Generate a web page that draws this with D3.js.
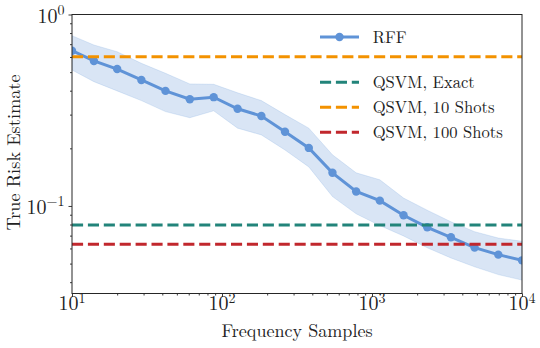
<!DOCTYPE html>
<html>
<head>
<meta charset="utf-8">
<script src="https://cdn.jsdelivr.net/npm/d3@7"></script>
<style>
  html, body { margin: 0; padding: 0; background: #fff; }
  svg { display: block; }
</style>
</head>
<body>
<svg id="chart" width="540" height="348"></svg>
<script>
// ---- data ----
const freqSamples = [10, 14, 20, 29, 42, 61, 88, 127, 183, 263, 379, 545, 784, 1128, 1623, 2335, 3359, 4832, 6951, 10000];
const rffMean  = [0.647, 0.572, 0.519, 0.455, 0.399, 0.361, 0.370, 0.322, 0.295, 0.244, 0.201, 0.149, 0.119, 0.1066, 0.0894, 0.0774, 0.0686, 0.0606, 0.0557, 0.052];
const rffUpper = [0.775, 0.693, 0.639, 0.556, 0.493, 0.434, 0.432, 0.390, 0.355, 0.300, 0.255, 0.185, 0.149, 0.137, 0.110, 0.095, 0.0827, 0.0734, 0.0680, 0.0654];
const rffLower = [0.513, 0.446, 0.399, 0.355, 0.311, 0.289, 0.314, 0.255, 0.235, 0.196, 0.160, 0.112, 0.091, 0.079, 0.0697, 0.0605, 0.0535, 0.0481, 0.0438, 0.0410];
const qsvmNames  = ["QSVM, Exact", "QSVM, 10 Shots", "QSVM, 100 Shots"];
const qsvmValues = [0.0796, 0.602, 0.0631];
const qsvmColors = ["#22847a", "#f39200", "#c1272d"];
const xTickValues = [10, 100, 1000, 10000];
const xTickExps = ["1", "2", "3", "4"];
const yTickValues = [1, 0.1];
const yTickExps = ["0", "\u22121"];
const xDomain = [10, 10000];
const yDomain = [0.0349, 1];

const rffColor = "#5f93d7";
const FONT = "Latin Modern Roman, Liberation Serif, serif";

// ---- layout ----
const svg = d3.select("#chart");
const m = { left: 72, right: 18, top: 14.5, bottom: 54.5 };
const W = 540, H = 348;
const x = d3.scaleLog().domain(xDomain).range([m.left, W - m.right]);
const y = d3.scaleLog().domain(yDomain).range([H - m.bottom, m.top]);

const g = svg.append("g");
svg.append("defs").append("clipPath").attr("id", "clip")
  .append("rect").attr("x", m.left).attr("y", m.top)
  .attr("width", W - m.left - m.right).attr("height", H - m.top - m.bottom);

const plot = g.append("g").attr("clip-path", "url(#clip)");

const rows = freqSamples.map((f, i) => ({ f, m: rffMean[i], lo: rffLower[i], hi: rffUpper[i] }));

// band
plot.append("path")
  .datum(rows)
  .attr("d", d3.area().x(d => x(d.f)).y0(d => y(d.lo)).y1(d => y(d.hi)))
  .attr("fill", rffColor).attr("fill-opacity", 0.24)
  .attr("stroke", rffColor).attr("stroke-opacity", 0.18).attr("stroke-width", 1);

// RFF line
plot.append("path")
  .datum(rows)
  .attr("d", d3.line().x(d => x(d.f)).y(d => y(d.m)))
  .attr("fill", "none").attr("stroke", rffColor).attr("stroke-width", 3);
plot.selectAll("circle.rff").data(rows).enter().append("circle")
  .attr("class", "rff")
  .attr("cx", d => x(d.f)).attr("cy", d => y(d.m)).attr("r", 4.2)
  .attr("fill", rffColor);

// horizontal QSVM lines
qsvmValues.forEach((v, i) => {
  plot.append("line")
    .attr("x1", x(xDomain[0])).attr("x2", x(xDomain[1]))
    .attr("y1", y(v)).attr("y2", y(v))
    .attr("stroke", qsvmColors[i]).attr("stroke-width", 3)
    .attr("stroke-dasharray", "11.1,4.8");
});

// ---- axes ----
const axisColor = "#262626";
function minorTicks(domain) {
  const out = [];
  const e0 = Math.floor(Math.log10(domain[0])), e1 = Math.ceil(Math.log10(domain[1]));
  for (let e = e0; e <= e1; e++) for (let k = 2; k <= 9; k++) {
    const v = k * Math.pow(10, e);
    if (v >= domain[0] && v <= domain[1]) out.push(v);
  }
  return out;
}

const xAxisG = g.append("g").attr("transform", `translate(0,${H - m.bottom})`)
  .call(d3.axisBottom(x).tickValues(xTickValues).tickSize(3.5).tickFormat(() => ""));
const xMinorG = g.append("g").attr("transform", `translate(0,${H - m.bottom})`)
  .call(d3.axisBottom(x).tickValues(minorTicks(xDomain)).tickSize(2).tickFormat(() => ""));
const yAxisG = g.append("g").attr("transform", `translate(${m.left},0)`)
  .call(d3.axisLeft(y).tickValues(yTickValues).tickSize(3.5).tickFormat(() => ""));
const yMinorG = g.append("g").attr("transform", `translate(${m.left},0)`)
  .call(d3.axisLeft(y).tickValues(minorTicks(yDomain)).tickSize(2).tickFormat(() => ""));
[xAxisG, xMinorG, yAxisG, yMinorG].forEach(a => {
  a.select(".domain").remove();
  a.selectAll("text").remove();
  a.selectAll("line").attr("stroke", axisColor).attr("stroke-width", 0.9);
});

// frame
g.append("rect").attr("x", m.left).attr("y", m.top)
  .attr("width", W - m.left - m.right).attr("height", H - m.top - m.bottom)
  .attr("fill", "none").attr("stroke", axisColor).attr("stroke-width", 1);

// tick labels
const tickFs = 20, supFs = 14, supDy = -7.5;
xTickValues.forEach((v, i) => {
  const t = g.append("text").attr("x", x(v)).attr("y", 310)
    .attr("text-anchor", "middle").attr("font-family", FONT).attr("font-size", tickFs).attr("fill", "#222");
  t.append("tspan").text("10");
  t.append("tspan").attr("font-size", supFs).attr("dy", supDy).text(xTickExps[i]);
});
yTickValues.forEach((v, i) => {
  const t = g.append("text").attr("x", 64.5).attr("y", y(v) + 8)
    .attr("text-anchor", "end").attr("font-family", FONT).attr("font-size", tickFs).attr("fill", "#222");
  t.append("tspan").text("10");
  t.append("tspan").attr("font-size", supFs).attr("dy", supDy).text(yTickExps[i]);
});

// axis labels
g.append("text").attr("x", (m.left + W - m.right) / 2).attr("y", 337)
  .attr("text-anchor", "middle").attr("font-family", FONT).attr("font-size", 18.1).attr("fill", "#222")
  .text("Frequency Samples");
g.append("text").attr("transform", `translate(20,152.5) rotate(-90)`)
  .attr("text-anchor", "middle").attr("font-family", FONT).attr("font-size", 18.3).attr("fill", "#222")
  .text("True Risk Estimate");

// ---- legend ----
const legX0 = 320, legX1 = 359, legTextX = 372.7, legFs = 16.6;
const leg = g.append("g");
leg.append("line").attr("x1", legX0).attr("x2", legX1).attr("y1", 37).attr("y2", 37)
  .attr("stroke", rffColor).attr("stroke-width", 3);
leg.append("circle").attr("cx", (legX0 + legX1) / 2).attr("cy", 37).attr("r", 4.2).attr("fill", rffColor);
leg.append("text").attr("x", legTextX).attr("y", 37 + 5.8)
  .attr("font-family", FONT).attr("font-size", legFs).attr("fill", "#222").text("RFF");
const legYs = [82.3, 107.3, 132.3];
qsvmNames.forEach((n, i) => {
  leg.append("line").attr("x1", legX0).attr("x2", legX1).attr("y1", legYs[i]).attr("y2", legYs[i])
    .attr("stroke", qsvmColors[i]).attr("stroke-width", 3).attr("stroke-dasharray", "11.1,4.8");
  leg.append("text").attr("x", legTextX).attr("y", legYs[i] + 5.8)
    .attr("font-family", FONT).attr("font-size", legFs).attr("fill", "#222").text(n);
});
</script>
</body>
</html>
